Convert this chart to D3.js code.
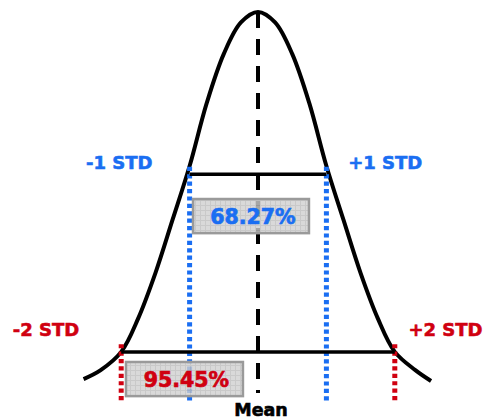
<!DOCTYPE html>
<html><head><meta charset="utf-8">
<script src="https://cdn.jsdelivr.net/npm/d3@7"></script>
<style>html,body{margin:0;padding:0;background:#fff;}svg{display:block;}</style>
</head><body>
<script>
// Curve points: z in standard deviations, height relative to peak
const curveZ = [-2.55,-2.3,-2.0,-1.75,-1.5,-1.25,-1.0,-0.75,-0.5,-0.25,0,0.25,0.5,0.75,1.0,1.25,1.5,1.75,2.0,2.3,2.53];
const curveH = [0.054,0.077,0.124,0.211,0.327,0.464,0.603,0.765,0.892,0.973,1.0,0.973,0.892,0.765,0.603,0.464,0.327,0.211,0.124,0.077,0.049];
// STD markers
const stdZ = [-1, 1, -2, 2];
const stdLabels = ["-1 STD", "+1 STD", "-2 STD", "+2 STD"];
const stdTop = [0.601, 0.601, 0.144, 0.144];
// range bars
const rangeZ = [[-1, 1], [-2, 2]];
const rangeLevel = [0.582, 0.124];
const rangeLabels = ["68.27%", "95.45%"];
const meanLabel = "Mean";

const W = 487, H = 419;
const blue = "#1a6ef2", red = "#d00010";
const x = d3.scaleLinear().domain([-1, 1]).range([189.6, 326.4]);
const y = d3.scaleLinear().domain([0, 1]).range([400, 12]);

const svg = d3.select("body").append("svg").attr("width", W).attr("height", H);
const defs = svg.append("defs");
const pat = defs.append("pattern").attr("id", "grid").attr("width", 5).attr("height", 5).attr("patternUnits", "userSpaceOnUse");
pat.append("rect").attr("width", 5).attr("height", 5).attr("fill", "#cfcfcf");
pat.append("path").attr("d", "M0,0.5H5M0.5,0V5").attr("stroke", "#bcbcbc").attr("stroke-width", 1);

const pts = curveZ.map((z, i) => [z, curveH[i]]);
svg.append("path").datum(pts)
  .attr("d", d3.line().x(d => x(d[0])).y(d => y(d[1])).curve(d3.curveCatmullRom.alpha(0.5)))
  .attr("fill", "none").attr("stroke", "#000").attr("stroke-width", 4);

// dotted std lines
stdZ.forEach((z, i) => {
  const c = Math.abs(z) === 1 ? blue : red;
  svg.append("line").attr("x1", x(z)).attr("x2", x(z)).attr("y1", y(stdTop[i])).attr("y2", 402)
    .attr("stroke", c).attr("stroke-width", 5).attr("stroke-dasharray", "4.2,3.2");
});

// range lines
rangeZ.forEach((r, i) => {
  svg.append("line").attr("x1", x(r[0])).attr("x2", x(r[1])).attr("y1", y(rangeLevel[i])).attr("y2", y(rangeLevel[i]))
    .attr("stroke", "#000").attr("stroke-width", 3.5);
});

// mean dashed line
svg.append("line").attr("x1", x(0)).attr("x2", x(0)).attr("y1", y(1)).attr("y2", 393)
  .attr("stroke", "#000").attr("stroke-width", 4).attr("stroke-dasharray", "16,11");

// boxes
const boxes = [
  {z0: -0.95, z1: 0.745, h0: 0.518, h1: 0.430, col: blue},
  {z0: -1.93, z1: -0.22, h0: 0.098, h1: 0.010, col: red}
];
boxes.forEach((b, i) => {
  const g = svg.append("g");
  g.append("rect").attr("x", x(b.z0)).attr("y", y(b.h0)).attr("width", x(b.z1) - x(b.z0)).attr("height", y(b.h1) - y(b.h0))
    .attr("fill", "url(#grid)").attr("fill-opacity", 0.8).attr("stroke", "#9a9a9a").attr("stroke-width", 2.5);
  g.append("text").attr("x", (x(b.z0) + x(b.z1)) / 2 + 2).attr("y", (y(b.h0) + y(b.h1)) / 2 + 8)
    .attr("text-anchor", "middle").attr("font-family", "DejaVu Sans").attr("font-weight", "bold")
    .attr("font-size", 20.5).attr("fill", b.col).attr("stroke", b.col).attr("stroke-width", 0.7).text(rangeLabels[i]);
});

// std labels
const labelPos = [[-2.03, 0.595], [1.86, 0.595], [-3.1, 0.165], [2.74, 0.165]];
stdLabels.forEach((t, i) => {
  const c = Math.abs(stdZ[i]) === 1 ? blue : red;
  svg.append("text").attr("x", x(labelPos[i][0])).attr("y", y(labelPos[i][1]))
    .attr("text-anchor", "middle").attr("font-family", "DejaVu Sans").attr("font-weight", "bold")
    .attr("font-size", 18).attr("fill", c).attr("stroke", c).attr("stroke-width", 0.6).text(t);
});

svg.append("text").attr("x", x(0) + 3).attr("y", 416).attr("text-anchor", "middle")
  .attr("font-family", "DejaVu Sans").attr("font-weight", "bold").attr("font-size", 17.5)
  .attr("fill", "#000").attr("stroke", "#000").attr("stroke-width", 0.6).text(meanLabel);
</script>
</body></html>
